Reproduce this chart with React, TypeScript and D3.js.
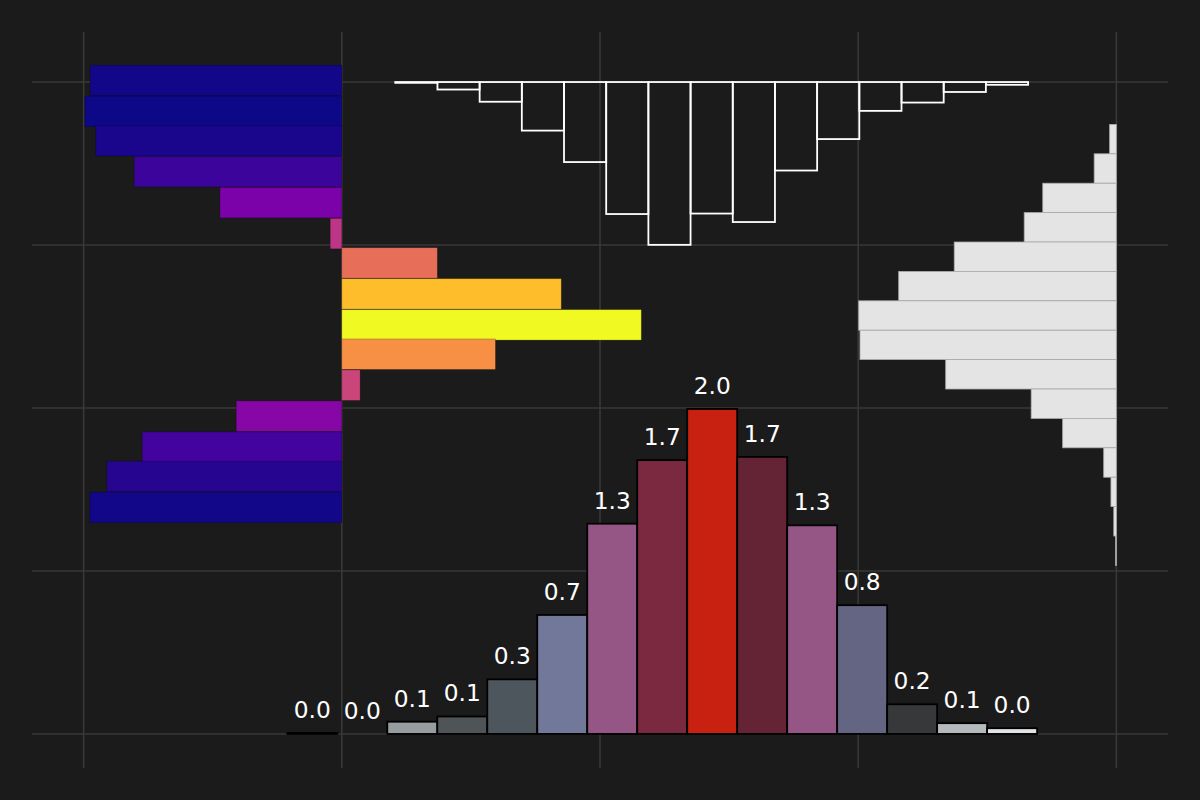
import React from "react";
import * as d3 from "d3";

// ---- axes ticks ----
const xTicks = [-1, 0, 1, 2, 3];
const yTicks = [0, 1, 2, 3, 4];

// ---- left horizontal bars (plasma) ----
const hBarY = [4.01, 3.82, 3.64, 3.45, 3.26, 3.07, 2.89, 2.70, 2.51, 2.33, 2.14, 1.95, 1.76, 1.58, 1.39];
const hBarVal = [-0.975, -0.995, -0.953, -0.804, -0.472, -0.045, 0.37, 0.85, 1.16, 0.595, 0.071, -0.409, -0.773, -0.91, -0.976];
const hBarHeight = 0.187;

// ---- top outlined histogram hanging from y=4 ----
const topHistStart = 0.207;
const topHistWidth = 0.1634;
const topHistDepth = [0.005, 0.046, 0.121, 0.298, 0.491, 0.81, 0.999, 0.807, 0.859, 0.543, 0.35, 0.177, 0.126, 0.061, 0.017];
const topHistBase = 4;

// ---- right horizontal histogram (from x=3 leftwards) ----
const rightHistTop = 3.74;
const rightHistBin = 0.1804;
const rightHistVal = [0.026, 0.086, 0.285, 0.357, 0.628, 0.843, 0.998, 0.993, 0.661, 0.33, 0.208, 0.049, 0.021, 0.01, 0.003];
const rightHistBase = 3;

// ---- bottom histogram with labels ----
const botStart = -0.211;
const botWidth = 0.1936;
const botVal = [0.006, 0, 0.075, 0.107, 0.335, 0.73, 1.29, 1.68, 1.994, 1.7, 1.28, 0.79, 0.182, 0.066, 0.035];
const botColors = ["#000000", "#1a1a1a", "#979c9e", "#4f5457", "#4e565d", "#717899", "#955685", "#7a2940", "#c92111", "#652336", "#955685", "#646582", "#37383a", "#b4b9bb", "#e1e4e7"];

const W = 1200;
const H = 800;

export default function App() {
  const x = d3.scaleLinear().domain([-1.2, 3.2]).range([32, 1168]);
  const y = d3.scaleLinear().domain([-0.209, 4.307]).range([768, 32]);
  const vmin = d3.min(hBarVal)!;
  const vmax = d3.max(hBarVal)!;
  const norm = d3.scaleLinear().domain([vmin, vmax]).range([0, 1]);
  const font = "'DejaVu Sans', sans-serif";

  return (
    <svg width={W} height={H} style={{ position: "absolute", left: 0, top: 0, background: "#1b1b1b" }}>
      <rect x={0} y={0} width={W} height={H} fill="#1b1b1b" />
      {/* grid */}
      {xTicks.map((t) => (
        <line key={"gx" + t} x1={x(t)} x2={x(t)} y1={32} y2={768} stroke="#383838" strokeWidth={1.6} />
      ))}
      {yTicks.map((t) => (
        <line key={"gy" + t} x1={32} x2={1168} y1={y(t)} y2={y(t)} stroke="#383838" strokeWidth={1.6} />
      ))}

      {/* left horizontal bars */}
      {hBarVal.map((v, i) => {
        const yc = hBarY[i];
        const x0 = x(Math.min(0, v));
        const x1 = x(Math.max(0, v));
        return (
          <rect
            key={"hb" + i}
            x={x0}
            y={y(yc + hBarHeight / 2)}
            width={x1 - x0}
            height={y(yc - hBarHeight / 2) - y(yc + hBarHeight / 2)}
            fill={d3.interpolatePlasma(norm(v))}
            stroke="rgba(0,0,0,0.25)"
            strokeWidth={0.8}
          />
        );
      })}

      {/* top outlined histogram */}
      {topHistDepth.map((d, i) => {
        const a = topHistStart + i * topHistWidth;
        const b = a + topHistWidth;
        return (
          <rect
            key={"th" + i}
            x={x(a)}
            y={y(topHistBase)}
            width={x(b) - x(a)}
            height={y(topHistBase - d) - y(topHistBase)}
            fill="none"
            stroke="#ffffff"
            strokeWidth={1.8}
          />
        );
      })}

      {/* right histogram */}
      {rightHistVal.map((v, i) => {
        const t = rightHistTop - i * rightHistBin;
        const bt = t - rightHistBin;
        return (
          <rect
            key={"rh" + i}
            x={x(rightHistBase - v)}
            y={y(t)}
            width={x(rightHistBase) - x(rightHistBase - v)}
            height={y(bt) - y(t)}
            fill="#e4e4e4"
            stroke="#aaaaaa"
            strokeWidth={0.8}
          />
        );
      })}

      {/* bottom histogram */}
      {botVal.map((v, i) => {
        const a = botStart + i * botWidth;
        const b = a + botWidth;
        return (
          <g key={"bb" + i}>
            <rect
              x={x(a)}
              y={y(v)}
              width={x(b) - x(a)}
              height={y(0) - y(v)}
              fill={botColors[i]}
              stroke="#000000"
              strokeWidth={1.8}
            />
            <text
              x={(x(a) + x(b)) / 2}
              y={y(v) - 15}
              textAnchor="middle"
              fill="#ffffff"
              fontFamily={font}
              fontSize={23.3}
            >
              {d3.format(".1f")(v)}
            </text>
          </g>
        );
      })}
    </svg>
  );
}
